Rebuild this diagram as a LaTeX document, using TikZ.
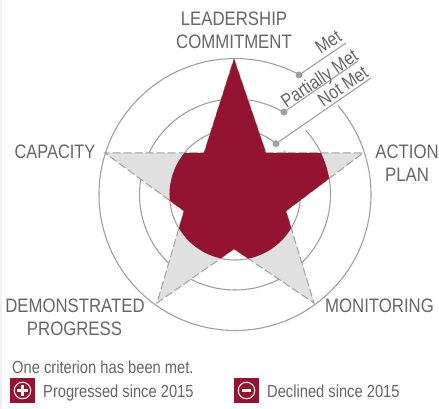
\documentclass[tikz,border=0pt]{standalone}
\usepackage{fontspec}
\setmainfont{Liberation Sans}
\definecolor{wine}{HTML}{931331}
\definecolor{ring}{HTML}{A0A0A0}
\definecolor{starfill}{HTML}{E0E0E0}
\definecolor{txt}{HTML}{666666}
\newcommand{\nar}[1]{\scalebox{0.84}[1]{#1}}
\newcommand{\narb}[1]{\scalebox{0.86}[1]{#1}}
\tikzset{
  x=1pt,y=-1pt,
  ringline/.style={draw=ring,line width=1.1pt},
  bigtext/.style={inner sep=0pt,anchor=base,text=txt,font=\fontsize{19.5}{23}\selectfont},
  smalltext/.style={inner sep=0pt,anchor=base west,text=txt,font=\fontsize{17.5}{20}\selectfont},
  rated/.style={inner sep=0pt,anchor=base,text=txt,rotate=34,font=\fontsize{19}{20}\selectfont},
  leader/.style={draw=ring,line width=1.1pt},
  ringdot/.style={circle,fill=ring,inner sep=0pt,minimum size=7pt},
  iconbox/.style={fill=wine,draw=none,minimum size=25pt,inner sep=0pt},
  iconmark/.style={draw=white!85!wine,line width=1.2pt,circle,minimum size=16.5pt,inner sep=0pt},
}
\begin{document}
\begin{tikzpicture}
\useasboundingbox (0,0) rectangle (439,409);
\fill[white] (0,0) rectangle (439,409);
\fill[black!6] (0,0) rectangle (1.5,409);
\coordinate (c) at (235,194.5);
% star vertices
\coordinate (p1) at (234,59);
\coordinate (q1) at (266,153);
\coordinate (p2) at (363,153);
\coordinate (q2) at (286,211);
\coordinate (p3) at (314,303);
\coordinate (q3) at (234,249);
\coordinate (p4) at (157,303);
\coordinate (q4) at (184,211);
\coordinate (p5) at (105,153);
\coordinate (q5) at (204,153);
% rings (with the gap that the rating labels sit in)
\draw[ringline] ([shift={(-40.7:136)}]c) arc[start angle=-40.7,end angle=298.2,radius=136];
\draw[ringline] ([shift={(-42.3:95.5)}]c) arc[start angle=-42.3,end angle=300.7,radius=95.5];
\draw[ringline] ([shift={(-41.6:65.5)}]c) arc[start angle=-41.6,end angle=308.9,radius=65.5];
% grey star
\path[fill=starfill] (p1)--(q1)--(p2)--(q2)--(p3)--(q3)--(p4)--(q4)--(p5)--(q5)--cycle;
\draw[draw=ring,line width=1pt,dash pattern=on 8pt off 3pt] (p1)--(q1)--(p2)--(q2)--(p3)--(q3)--(p4)--(q4)--(p5)--(q5)--cycle;
% red part: one closed path, so that no seams show between the sectors
\begin{scope}
\clip (p1)--(q1)--(p2)--(q2)--(p3)--(q3)--(p4)--(q4)--(p5)--(q5)--cycle;
\fill[wine] ([shift={(-126.8:150)}]c) arc[start angle=-126.8,end angle=-53.2,radius=150]
  -- (c) -- ([shift={(-53.2:95.5)}]c) arc[start angle=-53.2,end angle=18,radius=95.5]
  -- (c) -- ([shift={(18:65.5)}]c) arc[start angle=18,end angle=233.2,radius=65.5]
  -- (c) -- cycle;
\end{scope}
% leaders
\node[ringdot] (dmet) at (299,75) {};
\node[ringdot] (dpart) at (284,112) {};
\node[ringdot] (dnot) at (276,143.7) {};
\coordinate (emet) at (346,43);
\coordinate (epart) at (358,61);
\coordinate (enot) at (371,78);
\draw[leader] (dmet) -- (emet);
\draw[leader] (dpart) -- (epart);
\draw[leader] (dnot) -- (enot);
\node[rated] (tmet) at (332,47.5) {\nar{Met}};
\node[rated] (tpart) at (323,84) {\nar{Partially Met}};
\node[rated] (tnot) at (346.5,91.5) {\nar{Not Met}};
% axis labels
\node[bigtext] (lead) at (234,26) {\narb{LEADERSHIP}};
\node[bigtext] (comm) at (234,49) {\narb{COMMITMENT}};
\node[bigtext] (act) at (407,159) {\narb{ACTION}};
\node[bigtext] (plan) at (407,181) {\narb{PLAN}};
\node[bigtext] (cap) at (55,159) {\nar{CAPACITY}};
\node[bigtext] (dem) at (75,312) {\narb{DEMONSTRATED}};
\node[bigtext] (prog) at (74.5,335) {\narb{PROGRESS}};
\node[bigtext] (mon) at (379.5,312) {\narb{MONITORING}};
% legend
\node[smalltext] (crit) at (12,373) {\nar{One criterion has been met.}};
\node[iconbox] (plusbox) at (22.5,390.5) {};
\node[iconmark] (plusmark) at (plusbox) {};
\fill[white] ([shift={(-5.5,-1.5)}]plusmark.center) rectangle ([shift={(5.5,1.5)}]plusmark.center);
\fill[white] ([shift={(-1.5,-5.5)}]plusmark.center) rectangle ([shift={(1.5,5.5)}]plusmark.center);
\node[smalltext] (ptext) at (43,397) {\nar{Progressed since 2015}};
\node[iconbox] (minusbox) at (246.5,390.5) {};
\node[iconmark] (minusmark) at (minusbox) {};
\fill[white] ([shift={(-4.5,-1.7)}]minusmark.center) rectangle ([shift={(4.5,1.7)}]minusmark.center);
\node[smalltext] (dtext) at (267,397) {\nar{Declined since 2015}};
\end{tikzpicture}
\end{document}
